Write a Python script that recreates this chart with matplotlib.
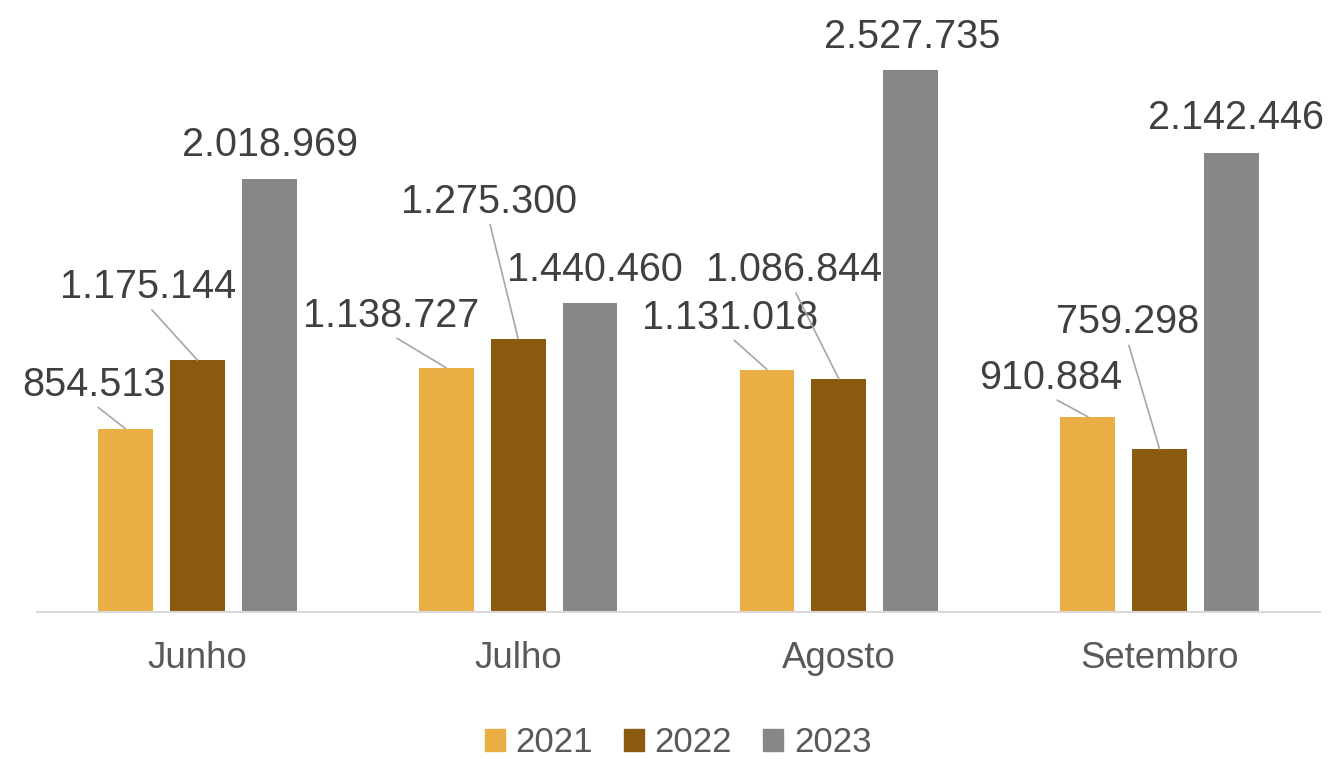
import numpy as np
import matplotlib
matplotlib.use("Agg")
import matplotlib.pyplot as plt
from matplotlib.patches import Patch

plt.rcParams['font.family'] = ['Liberation Sans', 'DejaVu Sans']

months = ['Junho', 'Julho', 'Agosto', 'Setembro']
years = ['2021', '2022', '2023']
v2021 = [854513, 1138727, 1131018, 910884]
v2022 = [1175144, 1275300, 1086844, 759298]
v2023 = [2018969, 1440460, 2527735, 2142446]
colors = ['#EAAE45', '#8A5A0E', '#878787']

# label offsets from bar top (pixels), and whether a leader line is drawn
offsets = [
    [(-32, 44), (-55, 52), (-37, 52), (-37, 39)],
    [(-49, 73), (-29, 137), (-45, 109), (-32, 127)],
    [(1, 34), (5, 33), (1, 33), (5, 35)],
]
leaders = [True, True, False]

def fmt(v):
    return f"{v:,}".replace(",", ".")

fig = plt.figure(figsize=(13.33, 7.59), dpi=100)
ax = fig.add_axes([37/1333, (759-612)/759, 1283/1333, 612/759])

x = np.arange(len(months))
w = 0.171
step = 0.224
series = [v2021, v2022, v2023]
for i, vals in enumerate(series):
    xs = x + (i-1)*step
    ax.bar(xs, vals, width=w, color=colors[i], label=years[i])
    for j, v in enumerate(vals):
        dx, dy = offsets[i][j]
        arrow = None
        if leaders[i]:
            arrow = dict(arrowstyle='-', color='#A6A6A6', lw=1.2,
                         shrinkA=1, shrinkB=0, relpos=(0.5, 0.0))
        ax.annotate(fmt(v), xy=(xs[j], v), xytext=(dx, dy),
                    textcoords='offset pixels', ha='center', va='center',
                    fontsize=28.5, color='#404040', arrowprops=arrow)

ax.set_xlim(-0.5, 3.5)
ax.set_ylim(0, 612/214.4e-6)
ax.set_xticks(x)
ax.set_xticklabels(months, fontsize=26.4, color='#595959')
ax.tick_params(axis='x', length=0, pad=21)
ax.set_yticks([])
for s in ['top', 'left', 'right']:
    ax.spines[s].set_visible(False)
ax.spines['bottom'].set_color('#D9D9D9')
ax.spines['bottom'].set_linewidth(1.5)

handles = [Patch(color=c) for c in colors]
fig.legend(handles, years, loc='center', bbox_to_anchor=(678/1333, 1-743/759),
           ncol=3, frameon=False, fontsize=25, labelcolor='#595959',
           handlelength=0.58, handleheight=0.58, handletextpad=0.3,
           columnspacing=0.9)

fig.savefig('out.png', dpi=100)
